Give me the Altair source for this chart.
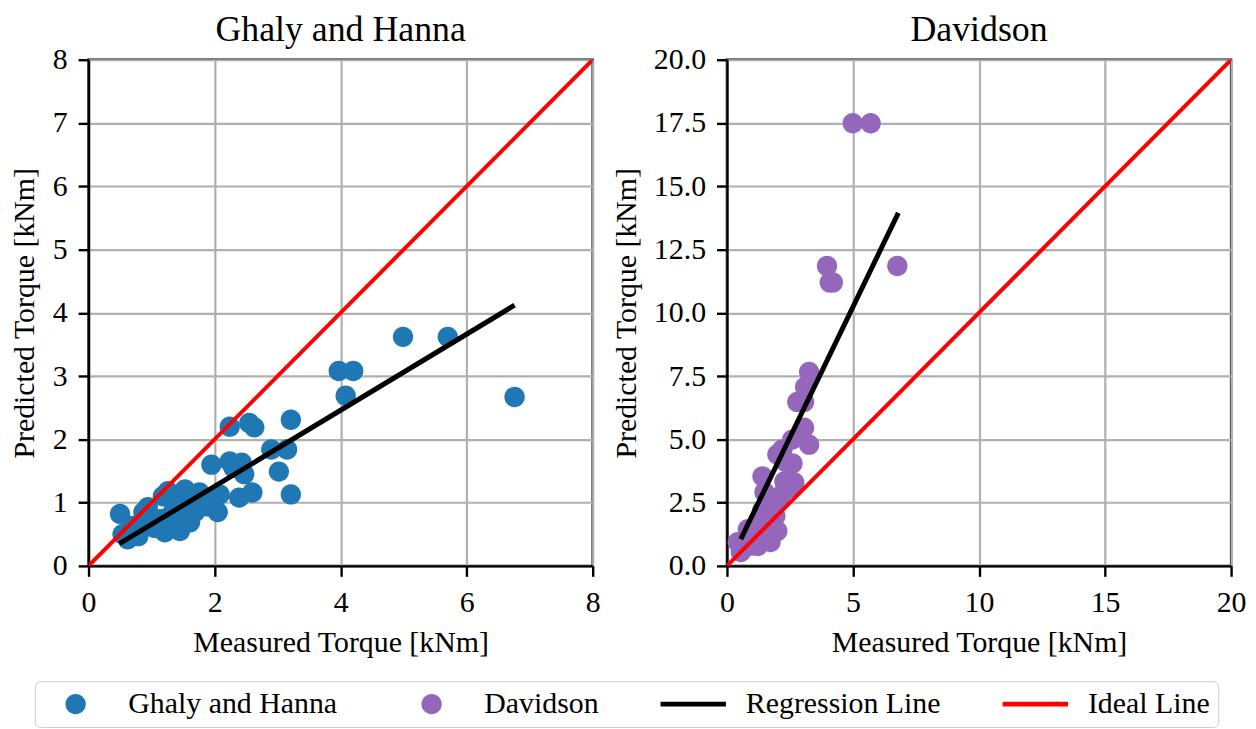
import altair as alt
import pandas as pd

FONT = "Liberation Serif"

# ---------------- data ----------------
gh_measured = [0.50, 0.54, 0.62, 0.79, 0.69, 0.87, 0.93, 0.94, 1.05, 1.13,
               1.18, 1.21, 1.26, 1.30, 1.40, 1.45, 1.45, 1.53, 1.55, 1.61,
               1.69, 1.76, 1.81, 1.89, 1.95, 2.05, 2.08, 2.24, 2.24, 2.39,
               2.43, 2.47, 2.55, 2.60, 2.63, 2.90, 3.02, 3.15, 3.21, 3.21,
               3.97, 4.08, 4.20, 4.99, 5.70, 6.76, 2.30, 1.35]
gh_predicted = [0.82, 0.50, 0.42, 0.47, 0.63, 0.85, 0.69, 0.93, 0.60, 0.74,
                1.10, 0.53, 1.18, 0.80, 0.85, 0.55, 1.10, 1.21, 0.90, 0.69,
                0.85, 1.16, 1.05, 0.94, 1.60, 0.85, 1.13, 1.65, 2.20, 1.08,
                1.63, 1.45, 2.26, 1.16, 2.19, 1.84, 1.49, 1.84, 2.31, 1.13,
                3.08, 2.69, 3.08, 3.62, 3.62, 2.67, 1.55, 1.00]

dv_measured = [0.43, 0.55, 0.62, 0.83, 0.95, 1.10, 1.22, 1.34, 1.40, 1.49,
               1.41, 1.55, 1.73, 1.80, 1.92, 2.00, 2.00, 2.12, 2.20, 2.28,
               2.35, 2.50, 2.59, 2.67, 2.60, 2.79, 3.06, 3.06, 3.10, 3.26,
               3.26, 1.65, 1.20, 1.05, 1.30, 1.60, 1.75, 2.30, 2.45, 1.85,
               3.97, 4.08, 4.20, 4.99, 5.70, 6.76]
dv_predicted = [0.94, 0.55, 0.70, 1.45, 0.80, 1.20, 0.79, 1.65, 2.20, 2.91,
                3.54, 1.50, 0.94, 1.70, 1.96, 1.38, 4.40, 2.75, 4.60, 3.34,
                4.10, 3.10, 4.99, 3.30, 4.05, 6.48, 6.48, 5.46, 7.07, 7.66,
                4.79, 2.50, 1.10, 1.00, 1.30, 2.00, 1.20, 3.00, 3.10, 2.40,
                11.85, 11.20, 11.20, 17.49, 17.49, 11.85]

gh_reg_x = [0.49, 6.76]
gh_reg_y = [0.35, 4.12]
dv_reg_x = [0.55, 6.80]
dv_reg_y = [1.06, 13.95]
gh_ideal = [0, 8]
dv_ideal = [0, 20]

series_names = ["Ghaly and Hanna", "Davidson", "Regression Line", "Ideal Line"]
series_colors = ["#1f77b4", "#9467bd", "#000000", "#ff0000"]

gh_ticks_x = [0, 2, 4, 6, 8]
gh_ticks_y = [0, 1, 2, 3, 4, 5, 6, 7, 8]
dv_ticks_x = [0, 5, 10, 15, 20]
dv_ticks_y = [0, 2.5, 5, 7.5, 10, 12.5, 15, 17.5, 20]

# symbol shapes (unit box -1..1): a small disc and a thin bar
CIRCLE = "M-0.31,0A0.31,0.31 0 1,0 0.31,0A0.31,0.31 0 1,0 -0.31,0Z"
BAR = "M-1,-0.07H1V0.07H-1Z"
series_shapes = [CIRCLE, CIRCLE, BAR, BAR]

# ---------------- tables ----------------
gh_df = pd.DataFrame({"x": gh_measured, "y": gh_predicted, "series": series_names[0]})
dv_df = pd.DataFrame({"x": dv_measured, "y": dv_predicted, "series": series_names[1]})
gh_reg = pd.DataFrame({"x": gh_reg_x, "y": gh_reg_y})
dv_reg = pd.DataFrame({"x": dv_reg_x, "y": dv_reg_y})
gh_id = pd.DataFrame({"x": gh_ideal, "y": gh_ideal})
dv_id = pd.DataFrame({"x": dv_ideal, "y": dv_ideal})

legend = alt.Legend(
    title=None, orient="none", legendX=-54, legendY=625, direction="horizontal",
    labelFont=FONT, labelFontSize=30, labelColor="black", labelLimit=400,
    symbolSize=4356, clipHeight=30, labelOffset=20, columnPadding=62,
    symbolStrokeWidth=0, symbolOpacity=1,
    strokeColor="#cccccc", cornerRadius=5, padding=8, fillColor="white",
)
color = alt.Color("series:N", scale=alt.Scale(domain=series_names, range=series_colors),
                  legend=legend)
shape = alt.Shape("series:N", scale=alt.Scale(domain=series_names, range=series_shapes),
                  legend=legend)


def panel(pts, reg, ideal, title, dom, xt, yt, yfmt, ytp):
    xenc = alt.X("x:Q", scale=alt.Scale(domain=dom, nice=False, zero=False),
                 axis=alt.Axis(values=xt, title="Measured Torque [kNm]", format="d"))
    yenc = alt.Y("y:Q", scale=alt.Scale(domain=dom, nice=False, zero=False),
                 axis=alt.Axis(values=yt, title="Predicted Torque [kNm]", format=yfmt,
                               titlePadding=ytp))
    p = alt.Chart(pts).mark_point(filled=True, size=4356, opacity=1, strokeWidth=0).encode(
        x=xenc, y=yenc, color=color, shape=shape)
    r = alt.Chart(reg).mark_line(strokeWidth=5, color="black").encode(x=xenc, y=yenc)
    i = alt.Chart(ideal).mark_line(strokeWidth=4, color="red", clip=True).encode(x=xenc, y=yenc)
    return alt.layer(p, r, i).properties(
        width=507, height=509,
        title=alt.TitleParams(title, font=FONT, fontSize=36, fontWeight="normal",
                              color="black", anchor="middle", offset=-4))


left = panel(gh_df, gh_reg, gh_id, "Ghaly and Hanna", [0, 8], gh_ticks_x, gh_ticks_y, "d", 13)
right = panel(dv_df, dv_reg, dv_id, "Davidson", [0, 20], dv_ticks_x, dv_ticks_y, ".1f", 12)

chart = alt.hconcat(left, right, spacing=8).properties(
    padding={"left": 0, "top": 0, "right": 0, "bottom": 0}
).configure_view(
    stroke="black", strokeWidth=2.4
).configure_axis(
    labelFont=FONT, labelFontSize=30, labelColor="black",
    titleFont=FONT, titleFontSize=30, titleFontWeight="normal", titleColor="black",
    grid=True, gridColor="#b0b0b0", gridWidth=2.2,
    domainColor="black", domainWidth=2.4,
    tickColor="black", tickWidth=2.4, tickSize=10.5,
    labelPadding=11, titlePadding=11, labelFlush=False, labelOverlap=False,
)

chart.save("out.html", embed_options={"renderer": "svg", "actions": False})
